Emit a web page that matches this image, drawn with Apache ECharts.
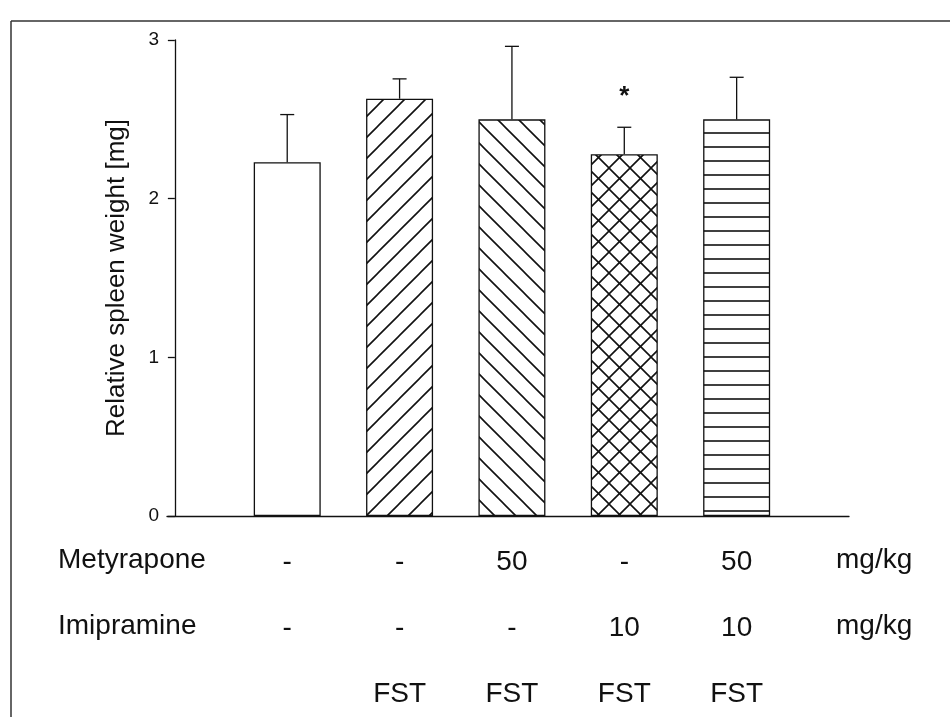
<!DOCTYPE html>
<html>
<head>
<meta charset="utf-8">
<script src="https://cdn.jsdelivr.net/npm/echarts@6/dist/echarts.min.js"></script>
<style>
html,body{margin:0;padding:0;background:#fff;}
#chart{width:950px;height:717px;}
</style>
</head>
<body>
<div id="chart"></div>
<script>
// ---- data ----
const groups = ['Control', 'FST', 'FST + Metyrapone', 'FST + Imipramine', 'FST + Metyrapone + Imipramine'];
const xPos = [1, 2, 3, 4, 5];
const means = [2.23, 2.63, 2.50, 2.28, 2.50];
const sems = [0.30, 0.125, 0.46, 0.17, 0.265];
const signif = ['', '', '', '*', ''];
const hatchTypes = ['none', 'fwd', 'back', 'cross', 'horiz'];
const metyrapone = ['-', '-', '50', '-', '50'];
const imipramine = ['-', '-', '-', '10', '10'];
const fst = ['', 'FST', 'FST', 'FST', 'FST'];
const rowTitles = ['Metyrapone', 'Imipramine', ''];
const rowUnits = ['mg/kg', 'mg/kg', ''];
const yTicks = [0, 1, 2, 3];

const FONT = '"Liberation Sans", Arial, Helvetica, sans-serif';

function makePattern(type) {
  if (type === 'none') return '#ffffff';
  const c = document.createElement('canvas');
  const ctx = c.getContext('2d');
  if (type === 'horiz') {
    c.width = 14; c.height = 14;
    ctx.fillStyle = '#fff'; ctx.fillRect(0, 0, 14, 14);
    ctx.strokeStyle = '#111'; ctx.lineWidth = 1.6;
    ctx.beginPath(); ctx.moveTo(0, 7); ctx.lineTo(14, 7); ctx.stroke();
    return { image: c, repeat: 'repeat' };
  }
  const s = 21;
  c.width = s; c.height = s;
  ctx.fillStyle = '#fff'; ctx.fillRect(0, 0, s, s);
  ctx.strokeStyle = '#111'; ctx.lineWidth = 1.6;
  function fwd() {
    ctx.beginPath();
    ctx.moveTo(-s, s); ctx.lineTo(s, -s);
    ctx.moveTo(0, s); ctx.lineTo(s, 0);
    ctx.moveTo(0, 2 * s); ctx.lineTo(2 * s, 0);
    ctx.stroke();
  }
  function back() {
    ctx.beginPath();
    ctx.moveTo(-s, 0); ctx.lineTo(s, 2 * s);
    ctx.moveTo(0, 0); ctx.lineTo(s, s);
    ctx.moveTo(0, -s); ctx.lineTo(2 * s, s);
    ctx.stroke();
  }
  if (type === 'fwd') fwd();
  if (type === 'back') back();
  if (type === 'cross') { fwd(); back(); }
  return { image: c, repeat: 'repeat' };
}

const chart = echarts.init(document.getElementById('chart'), null, { renderer: 'canvas' });

const barData = xPos.map((x, i) => ({
  value: [x, means[i]],
  itemStyle: { color: makePattern(hatchTypes[i]), borderColor: '#111', borderWidth: 1.3 }
}));
const errData = xPos.map((x, i) => [x, means[i], sems[i], i]);

const option = {
  backgroundColor: '#fff',
  animation: false,
  grid: { left: 167, right: 101, top: 40, bottom: 201, containLabel: false },
  xAxis: {
    type: 'value', min: -0.07, max: 6,
    axisLine: { show: true, onZero: false, lineStyle: { color: '#111', width: 1.3 } },
    axisTick: { show: false }, axisLabel: { show: false }, splitLine: { show: false }
  },
  yAxis: {
    type: 'value', min: 0, max: 3, interval: 1,
    name: 'Relative spleen weight [mg]', nameLocation: 'middle', nameGap: 37,
    nameTextStyle: { fontSize: 26, color: '#111', fontFamily: FONT },
    axisLine: { show: true, onZero: true, lineStyle: { color: '#111', width: 1.3 } },
    axisTick: { show: true, inside: false, length: 7, lineStyle: { color: '#111', width: 1.3 } },
    axisLabel: { fontSize: 19, color: '#111', margin: 8, fontFamily: FONT,
      formatter: v => (yTicks.indexOf(v) >= 0 ? String(v) : '') },
    splitLine: { show: false }
  },
  series: [
    {
      type: 'bar', data: barData, barWidth: 67, silent: true,
      encode: { x: 0, y: 1 }
    },
    {
      type: 'custom', data: errData, silent: true, z: 3,
      encode: { x: 0, y: 1 },
      renderItem: function (params, api) {
        const x = api.value(0), m = api.value(1), e = api.value(2), idx = api.value(3);
        const p0 = api.coord([x, m]);
        const p1 = api.coord([x, m + e]);
        const children = [
          { type: 'line', shape: { x1: p0[0], y1: p0[1], x2: p1[0], y2: p1[1] }, style: { stroke: '#111', lineWidth: 1.3 } },
          { type: 'line', shape: { x1: p1[0] - 7, y1: p1[1], x2: p1[0] + 7, y2: p1[1] }, style: { stroke: '#111', lineWidth: 1.3 } }
        ];
        if (signif[idx]) {
          children.push({ type: 'text', x: p1[0], y: p1[1] - 30,
            style: { text: signif[idx], fill: '#111', font: 'bold 26px ' + FONT, align: 'center', verticalAlign: 'middle' } });
        }
        return { type: 'group', children: children };
      }
    }
  ]
};
chart.setOption(option);

// bottom table rows and frame
const rows = [metyrapone, imipramine, fst];
const rowY = [562, 628, 694];
const g = [];
rows.forEach((row, r) => {
  if (rowTitles[r]) g.push({ type: 'text', left: 58, top: rowY[r] - 16, style: { text: rowTitles[r], font: '28px ' + FONT, fill: '#111' } });
  if (rowUnits[r]) g.push({ type: 'text', left: 836, top: rowY[r] - 16, style: { text: rowUnits[r], font: '28px ' + FONT, fill: '#111' } });
  row.forEach((t, i) => {
    if (!t) return;
    const px = chart.convertToPixel({ xAxisIndex: 0 }, xPos[i]);
    g.push({ type: 'text', x: px, y: rowY[r], style: { text: t, font: '28px ' + FONT, fill: '#111', align: 'center', verticalAlign: 'middle' } });
  });
});
g.push({ type: 'line', shape: { x1: 11, y1: 21, x2: 950, y2: 21 }, style: { stroke: '#333', lineWidth: 1.5 } });
g.push({ type: 'line', shape: { x1: 11, y1: 21, x2: 11, y2: 717 }, style: { stroke: '#333', lineWidth: 1.5 } });
chart.setOption({ graphic: g });
</script>
</body>
</html>
